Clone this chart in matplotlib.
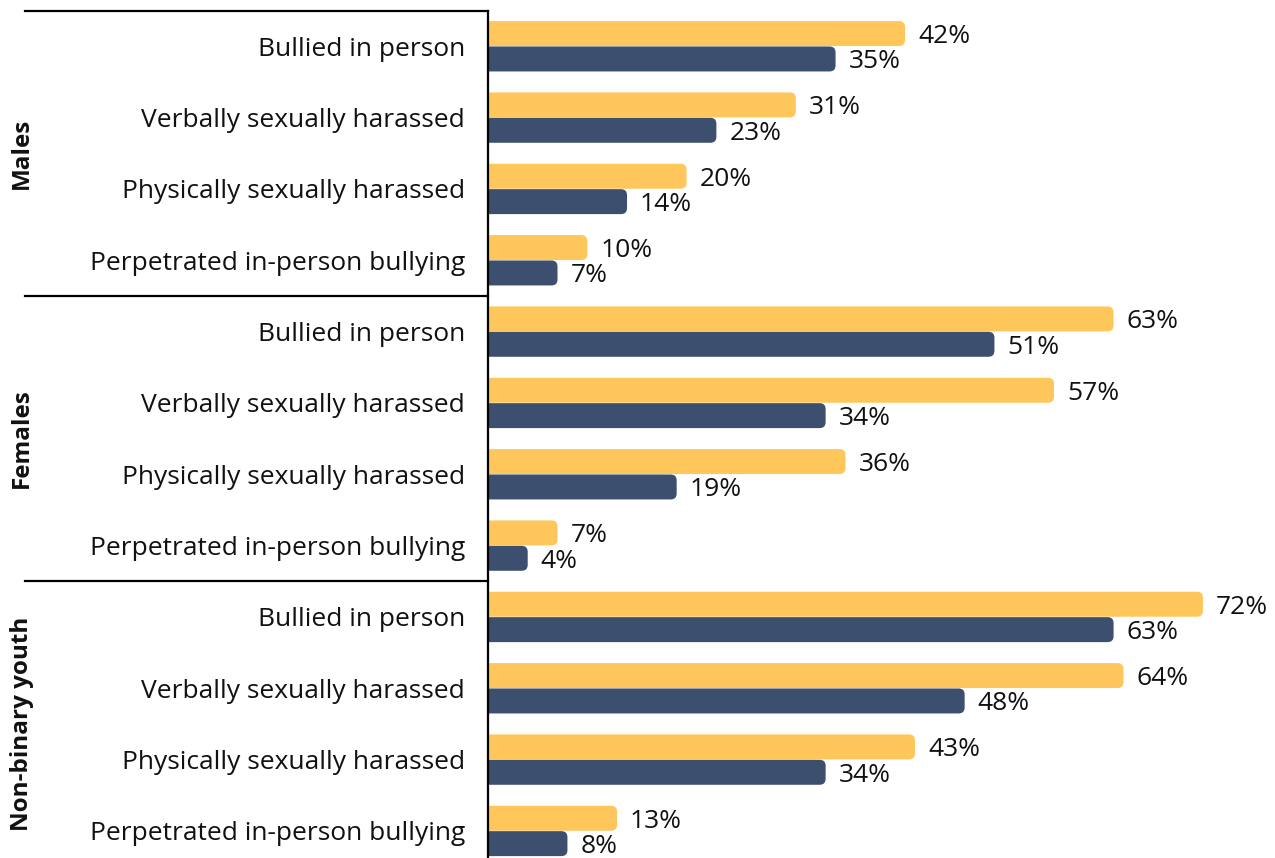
import matplotlib
matplotlib.use('Agg')
import matplotlib.pyplot as plt
from matplotlib.patches import FancyBboxPatch

plt.rcParams['font.family'] = ['Open Sans', 'DejaVu Sans']

# Survey results by gender group
groups = ['Males', 'Females', 'Non-binary youth']
behaviours = ['Bullied in person', 'Verbally sexually harassed',
              'Physically sexually harassed', 'Perpetrated in-person bullying']
# yellow series (upper bar) and navy series (lower bar), in percent
series_a = [42, 31, 20, 10, 63, 57, 36, 7, 72, 64, 43, 13]
series_b = [35, 23, 14, 7, 51, 34, 19, 4, 63, 48, 34, 8]

yellow = '#FFC65C'
navy = '#3D4F6E'
txt = '#111111'
fs = 19

W, H = 1275, 858
fig = plt.figure(figsize=(W / 100, H / 100), dpi=100)
left_px = 488
top_px, bottom_px = 10.6, 866.6   # the plot area runs a little past the bottom edge
ax = fig.add_axes([left_px / W, (H - bottom_px) / H,
                   1 - left_px / W, (bottom_px - top_px) / H])

n = len(series_a)
px_per_pct = 9.93
xmax = (W - left_px) / px_per_pct
ax.set_xlim(0, xmax)
ax.set_ylim(n - 0.5, -0.5)

bar_h = 0.35
off = 0.178
# rounding: ~6px in both directions
r_x = 6 / px_per_pct
row_px = (bottom_px - top_px) / n
aspect = (6 / row_px) / r_x

def rounded_bar(y, v, color):
    p = FancyBboxPatch((-3, y - bar_h / 2), v + 3, bar_h,
                       boxstyle=f'round,pad=0,rounding_size={r_x}',
                       mutation_aspect=aspect, linewidth=0,
                       facecolor=color, clip_on=True)
    ax.add_patch(p)

labels = behaviours * len(groups)
for i in range(n):
    rounded_bar(i - off, series_a[i], yellow)
    rounded_bar(i + off, series_b[i], navy)
    ax.text(series_a[i] + 1.3, i - off, f'{series_a[i]}%', va='center_baseline',
            ha='left', fontsize=fs, color=txt)
    ax.text(series_b[i] + 1.3, i + off, f'{series_b[i]}%', va='center_baseline',
            ha='left', fontsize=fs, color=txt)

ax.set_yticks(range(n))
ax.set_yticklabels(labels, fontsize=fs, color=txt)
ax.tick_params(axis='y', length=0, pad=16.5)
ax.set_xticks([])

for s in ['top', 'right', 'bottom']:
    ax.spines[s].set_visible(False)
ax.spines['left'].set_linewidth(1.6)
ax.spines['left'].set_color('black')

# horizontal dividers between groups, extending into the label area
x0 = (25 - left_px) / (W - left_px)
trans = ax.get_yaxis_transform()
for yline in [-0.5, 3.5, 7.5]:
    ax.plot([x0, 0], [yline, yline], color='black', lw=1.6,
            transform=trans, clip_on=False)

# group names, rotated, centred on each block
xg = (22 - left_px) / (W - left_px)
for g, name in enumerate(groups):
    ax.text(xg, g * 4 + 1.5, name, rotation=90, ha='center', va='center',
            fontsize=17.5, fontweight='bold', color=txt, transform=trans)

fig.savefig('out.png', dpi=100)
